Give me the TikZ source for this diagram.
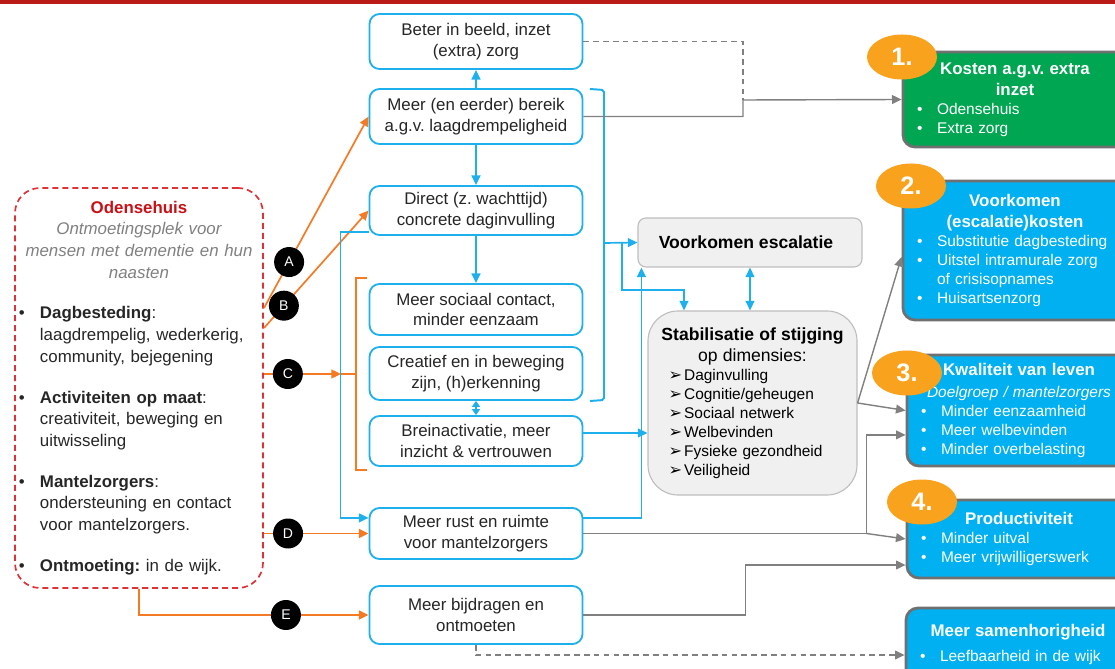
\documentclass[tikz,border=0pt]{standalone}
\usepackage{fontspec}
\setmainfont{Liberation Sans}
\newfontfamily\dvsfont{DejaVu Sans}
\usepackage{xcolor}
\usetikzlibrary{arrows.meta, positioning, calc, shapes.geometric}

\definecolor{topred}{RGB}{185,26,22}
\definecolor{odred}{RGB}{200,16,22}
\definecolor{dashred}{RGB}{222,50,55}
\definecolor{subgrey}{RGB}{128,128,128}
\definecolor{txt}{RGB}{38,38,38}
\definecolor{eblue}{RGB}{30,176,236}
\definecolor{oorange}{RGB}{244,122,36}
\definecolor{lgrey}{RGB}{240,240,240}
\definecolor{bgrey}{RGB}{190,190,190}
\definecolor{cgrey}{RGB}{128,128,128}
\definecolor{kgreen}{RGB}{0,166,81}
\definecolor{kblue}{RGB}{0,176,240}
\definecolor{kborder}{RGB}{112,112,112}
\definecolor{numorange}{RGB}{248,162,30}

\newcommand{\midfont}{\fontsize{12}{14.5}\selectfont}
\newcommand{\lftfont}{\fontsize{12}{15.4}\selectfont}
\newcommand{\smfont}{\fontsize{11}{13.5}\selectfont}
\newcommand{\hdfont}{\fontsize{12}{15}\selectfont\bfseries}
\newcommand{\bitem}[2][5mm]{\par\hangindent=#1\hangafter=1\noindent\makebox[#1][l]{\textbullet}#2\par}
\newcommand{\aitem}[1]{\par\noindent\hspace*{2mm}\makebox[3.9mm][l]{\dvsfont\fontsize{11.5}{11}\selectfont ➢}#1\par}

\begin{document}
\frenchspacing
\begin{tikzpicture}[x=0.25mm, y=-0.25mm,
    effect/.style={draw=eblue, line width=1.3pt, rounded corners=2.5mm, fill=white,
      minimum width=53.25mm, minimum height=12.75mm, align=center, text=txt, font=\midfont},
    greybox/.style={draw=bgrey, line width=0.8pt, fill=lgrey, text=black},
    outbox/.style={draw=kborder, line width=2pt, rounded corners=3mm, text=white,
      text width=49mm, inner xsep=3.5mm, font=\smfont},
    numbadge/.style={ellipse, fill=numorange, minimum width=17.5mm, minimum height=11.25mm,
      inner sep=0pt, text=white, font=\fontsize{18}{18}\selectfont\bfseries},
    letter/.style={circle, fill=black, text=white, minimum size=7.5mm, inner sep=0pt,
      font=\fontsize{10}{10}\selectfont},
    oarrow/.style={draw=oorange, line width=1.2pt, -{Triangle[length=2.4mm, width=2.2mm]}},
    obrack/.style={draw=oorange, line width=1.2pt},
    barrow/.style={draw=eblue, line width=1.2pt, -{Triangle[length=2.4mm, width=2.2mm]}},
    bbrack/.style={draw=eblue, line width=1.4pt, rounded corners=0.5mm},
    dblarrow/.style={draw=eblue, line width=1.2pt,
      {Triangle[length=2.4mm, width=2.2mm]}-{Triangle[length=2.4mm, width=2.2mm]}},
    garrow/.style={draw=cgrey, line width=1pt, -{Triangle[length=2.4mm, width=2.2mm]}},
    gline/.style={draw=cgrey, line width=1pt, dash pattern=on 4pt off 3pt}]
    \useasboundingbox (0,0) rectangle (1115,669);
    \clip (0,0) rectangle (1115,669);
    \fill[topred] (0,0) rectangle (1115,4);

    % Odensehuis
    \node[draw=dashred, line width=1.2pt, dash pattern=on 4.3pt off 2.8pt, rounded corners=6.25mm,
        text width=60mm, inner xsep=1mm, minimum height=100mm, text=txt, font=\lftfont] (odense) at (139,388) {%
        {\centering{\color{odred}\bfseries Odensehuis}\\
        {\color{subgrey}\itshape Ontmoetingsplek voor\\mensen met dementie en hun\\naasten}\par}
        \raggedright\vspace{4.8mm}
        \bitem[5.25mm]{\textbf{Dagbesteding}:\newline laagdrempelig, wederkerig,\newline community, bejegening}
        \vspace{4.8mm}
        \bitem[5.25mm]{\textbf{Activiteiten op maat}:\newline creativiteit, beweging en\newline uitwisseling}
        \vspace{4.8mm}
        \bitem[5.25mm]{\textbf{Mantelzorgers}:\newline ondersteuning en contact\newline voor mantelzorgers.}
        \vspace{4.8mm}
        \bitem[5.25mm]{\textbf{Ontmoeting:} in de wijk.}};

    % effecten
    \node[effect, minimum height=13.75mm] (beeld) at (476,41.5) {Beter in beeld, inzet\\(extra) zorg};
    \node[effect, minimum height=13.75mm] (bereik) at (476,116.5) {Meer (en eerder) bereik\\a.g.v. laagdrempeligheid};
    \node[effect, minimum height=12.25mm] (direct) at (476,210.5) {Direct (z. wachttijd)\\concrete daginvulling};
    \node[effect] (sociaal) at (476,309.5) {Meer sociaal contact,\\minder eenzaam};
    \node[effect, minimum height=13.25mm] (creatief) at (476,373.5) {Creatief en in beweging\\zijn, (h)erkenning};
    \node[effect, minimum height=12.5mm] (brein) at (476,441) {Breinactivatie, meer\\inzicht \& vertrouwen};
    \node[effect] (rust) at (476,533.5) {Meer rust en ruimte\\voor mantelzorgers};
    \node[effect, minimum height=14.5mm] (bijdragen) at (476,615) {Meer bijdragen en\\ontmoeten};

    \node[greybox, rounded corners=2mm, minimum width=56mm, minimum height=12.25mm,
        font=\fontsize{12.5}{15}\selectfont\bfseries] (escalatie) at (750,242.5) {Voorkomen escalatie\hspace*{2mm}};
    \node[greybox, rounded corners=7.5mm, text width=46mm, inner xsep=2.6mm, minimum width=52.25mm,
        minimum height=46mm, font=\smfont] (stabil) at (752.5,403) {%
        {\centering\fontsize{12.5}{15}\selectfont\textbf{Stabilisatie of stijging}\\ op dimensies:\par}
        \raggedright
        \aitem{Daginvulling}\aitem{Cognitie/geheugen}\aitem{Sociaal netwerk}
        \aitem{Welbevinden}\aitem{Fysieke gezondheid}\aitem{Veiligheid}};

    % uitkomsten
    \node[outbox, fill=kgreen, minimum height=23.75mm] (kosten) at (1015,99.5) {%
        {\centering\hdfont Kosten a.g.v. extra\\ inzet\par}\raggedright
        \bitem{Odensehuis}\bitem{Extra zorg}};
    \node[outbox, fill=kblue, minimum height=34.75mm] (voorkomen) at (1015,250.5) {%
        {\centering\hdfont Voorkomen\\ (escalatie)kosten\par}\raggedright
        \bitem{Substitutie dagbesteding}\bitem{Uitstel intramurale zorg\newline of crisisopnames}
        \bitem{Huisartsenzorg}};
    \node[outbox, fill=kblue, minimum height=27.75mm] (kwaliteit) at (1019,410.5) {%
        {\centering\hdfont Kwaliteit van leven\\ {\mdseries\itshape\smfont Doelgroep / mantelzorgers}\par}\raggedright
        \bitem{Minder eenzaamheid}\bitem{Meer welbevinden}\bitem{Minder overbelasting}};
    \node[outbox, fill=kblue, minimum height=19.5mm] (productiviteit) at (1019,539) {%
        {\centering\hdfont Productiviteit\par}\raggedright
        \bitem{Minder uitval}\bitem{Meer vrijwilligerswerk}};
    \node[outbox, fill=kblue, minimum height=18mm] (samen) at (1018,644) {%
        {\centering\hdfont Meer samenhorigheid\par}\vspace{1.5mm}\raggedright
        \bitem{Leefbaarheid in de wijk}};

    \node[numbadge] (n1) at (902,57) {1.};
    \node[numbadge] (n2) at (911,186) {2.};
    \node[numbadge] (n3) at (907,373) {3.};
    \node[numbadge] (n4) at (922,502) {4.};

    % oranje pijlen
    \coordinate (oA) at (264,308);
    \coordinate (oB) at (264,328);
    \coordinate (oC) at (264,374);
    \coordinate (oD) at (264,533.5);
    \coordinate (cTip) at (341,374);
    \draw[oarrow] (oA) -- node[letter, pos=0.24] (lA) {A} (bereik.west);
    \draw[oarrow] (oB) -- node[letter, pos=0.19] (lB) {B} (direct.west);
    \draw[oarrow] (oC) -- node[letter, pos=0.31] (lC) {C} (cTip);
    \draw[oarrow] (oD) -- node[letter, pos=0.23] (lD) {D} (rust.west);
    \draw[oarrow] (odense.south) |- node[letter, pos=0.82] (lE) {E} (bijdragen.west);
    \draw[obrack] (367,278) -- (356,278) -- (356,470) -- (367,470) (356,374) -- (cTip);

    % blauwe pijlen
    \coordinate (bj) at (604,243);
    \coordinate (bj2) at (622,243);
    \draw[barrow] (bereik) -- (beeld);
    \draw[barrow] (bereik) -- (direct);
    \draw[barrow] (direct) -- (sociaal);
    \draw[dblarrow, {Triangle[length=1.5mm, width=2mm]}-{Triangle[length=1.5mm, width=2mm]}] (creatief) -- (brein);
    \draw[bbrack] (590,89) -- (604,90) -- (604,400) -- (590,401);
    \draw[barrow] (bj) -- (escalatie.west);
    \draw[barrow] (bj2) -- (622,290) -| ($(stabil.north)+(-68.5,0)$);
    \draw[dblarrow] (escalatie.south) -- (escalatie.south |- stabil.north);
    \draw[barrow] ([yshift=2mm]brein.east) -- ([yshift=2mm]brein.east -| stabil.west);
    \draw[barrow] ([yshift=3.9mm]rust.east) -| ([xshift=1mm]escalatie.south west);
    \draw[barrow] ([yshift=0.9mm]direct.south west) -- ++(-28,0) |- ([yshift=3.9mm]rust.west);

    % grijze pijlen
    \coordinate (k1in) at (743,100);
    \draw[gline] (beeld.east) -| (k1in);
    \draw[garrow] (bereik.east) -| (k1in) -- (kosten.west);
    \draw[garrow] (stabil.east) -- ([yshift=-1.6mm]voorkomen.west);
    \draw[garrow] (stabil.east) -- (kwaliteit.west);
    \draw[garrow] (rust.east) -- ++(283,0) coordinate (rj) |- ([yshift=-6.1mm]kwaliteit.west);
    \draw[garrow] (rj) -- (productiviteit.west);
    \draw[garrow] (bijdragen.east) -- ++(162,0) |- ([yshift=-6.5mm]productiviteit.west);
    \draw[garrow, dash pattern=on 4pt off 3pt] (bijdragen.south) |- ([yshift=-2.75mm]samen.west);
\end{tikzpicture}
\end{document}
